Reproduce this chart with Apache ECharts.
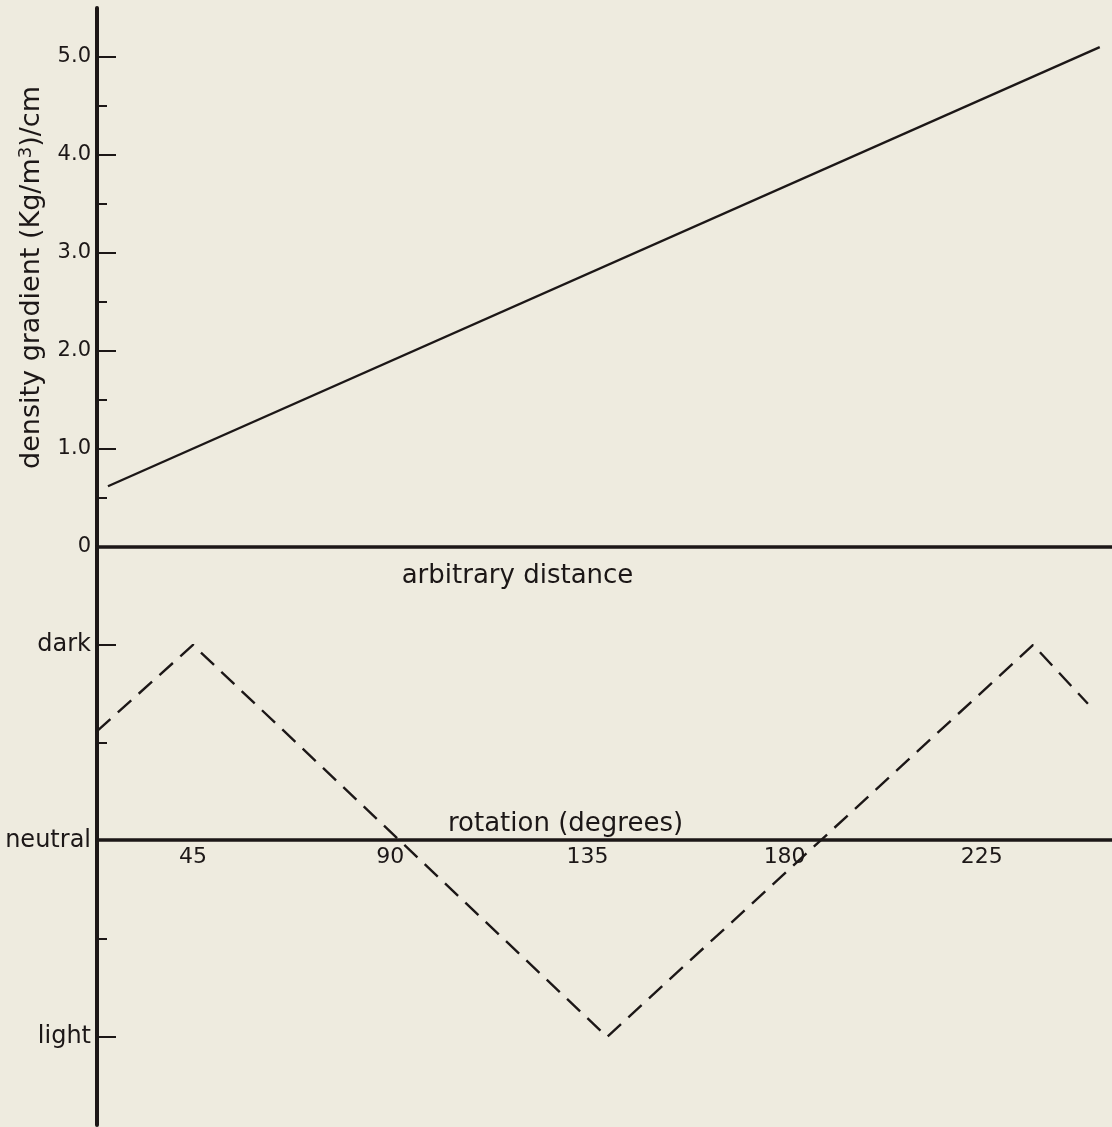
<!DOCTYPE html>
<html>
<head>
<meta charset="utf-8">
<script src="https://cdn.jsdelivr.net/npm/echarts@6/dist/echarts.min.js"></script>
<style>
  html, body { margin: 0; padding: 0; background: #eeebdf; }
  #chart { width: 1112px; height: 1127px; }
</style>
</head>
<body>
<div id="chart"></div>
<script>
// Upper panel: density gradient along an arbitrary distance
const distance = [25.6, 251.9];
const gradient = [0.62, 5.10];

// Lower panel: apparent shade versus rotation (1 = dark, 0 = neutral, -1 = light)
const rotation = [23.1, 45.0, 139.5, 236.7, 249.2];
const shade = [0.56, 1.0, -1.0, 1.0, 0.70];

// Tick labels
const gradientTicks = [0, 1, 2, 3, 4, 5];
const gradientMinor = [0.5, 1.5, 2.5, 3.5, 4.5];
const rotationTicks = [45, 90, 135, 180, 225];
const shadeTicks = [-1, 0, 1];
const shadeNames = { '1': 'dark', '0': 'neutral', '-1': 'light' };
const shadeMajor = [-1, 1];
const shadeMinor = [-0.5, 0.5];

const ink = '#1c1717';
const font = 'DejaVu Sans';
const xMin = 23.1, xMax = 254.7;
const shadeMin = -1.45, shadeMax = 1.5;

const hidden = { axisLine: { show: false }, axisTick: { show: false }, axisLabel: { show: false }, splitLine: { show: false } };

const chart = echarts.init(document.getElementById('chart'));
chart.setOption({
  backgroundColor: '#eeebdf',
  animation: false,
  textStyle: { fontFamily: font, color: ink },
  grid: [
    // upper panel
    { left: 97, right: 0, top: 8, height: 539, outerBoundsMode: 'none' },
    // lower panel, from the upper baseline down to the neutral line (holds the rotation axis)
    { left: 97, right: 0, top: 547, height: 293, outerBoundsMode: 'none' },
    // lower panel, full height (holds the shade curve and its scale)
    { left: 97, right: 0, top: 547, height: 578, outerBoundsMode: 'none' }
  ],
  xAxis: [
    {
      type: 'value', gridIndex: 0, min: xMin, max: xMax,
      axisLine: { show: true, onZero: false, lineStyle: { color: ink, width: 3.5 } },
      axisTick: { show: false }, axisLabel: { show: false }, splitLine: { show: false },
      name: 'arbitrary distance', nameLocation: 'middle', nameGap: 16,
      nameTextStyle: { fontFamily: font, fontSize: 26, color: ink, verticalAlign: 'top', padding: [0, 174, 0, 0] }
    },
    {
      type: 'value', gridIndex: 1, min: xMin, max: xMax, position: 'bottom',
      axisLine: { show: true, onZero: false, lineStyle: { color: ink, width: 3.5 } },
      axisTick: { show: false }, splitLine: { show: false },
      axisLabel: {
        customValues: rotationTicks, fontFamily: font, fontSize: 22, color: ink, margin: 6
      },
      name: 'rotation (degrees)', nameLocation: 'middle', nameGap: -3,
      nameTextStyle: { fontFamily: font, fontSize: 26, color: ink, verticalAlign: 'bottom', padding: [0, 78, 0, 0] }
    },
    Object.assign({ type: 'value', gridIndex: 2, min: xMin, max: xMax }, hidden)
  ],
  yAxis: [
    {
      type: 'value', gridIndex: 0, min: 0, max: 5.5,
      axisLine: { show: true, onZero: false, lineStyle: { color: ink, width: 4 } },
      axisTick: { show: true, inside: true, length: 19, customValues: gradientTicks.slice(1), lineStyle: { color: ink, width: 2 } },
      axisLabel: {
        customValues: gradientTicks, fontFamily: font, fontSize: 21, color: ink, margin: 6,
        formatter: v => (v === 0 ? '0' : v.toFixed(1))
      },
      splitLine: { show: false },
      name: 'density gradient (Kg/m{sup|3})/cm', nameLocation: 'middle', nameGap: 50,
      nameTextStyle: {
        fontFamily: font, fontSize: 27, color: ink,
        rich: { sup: { fontFamily: font, fontSize: 18, color: ink, verticalAlign: 'top', padding: [0, 0, 12, 0] } }
      }
    },
    {
      type: 'value', gridIndex: 0, min: 0, max: 5.5, position: 'left', offset: 0,
      axisLine: { show: false },
      axisTick: { show: true, inside: true, length: 10, customValues: gradientMinor, lineStyle: { color: ink, width: 2 } },
      axisLabel: { show: false }, splitLine: { show: false }
    },
    Object.assign({ type: 'value', gridIndex: 1, min: 0, max: shadeMax }, hidden),
    {
      type: 'value', gridIndex: 2, min: shadeMin, max: shadeMax,
      axisLine: { show: true, onZero: false, lineStyle: { color: ink, width: 4 } },
      axisTick: { show: true, inside: true, length: 19, customValues: shadeMajor, lineStyle: { color: ink, width: 2 } },
      axisLabel: {
        customValues: shadeTicks, fontFamily: font, fontSize: 24, color: ink, margin: 6,
        formatter: v => shadeNames[String(v)]
      },
      splitLine: { show: false }
    },
    {
      type: 'value', gridIndex: 2, min: shadeMin, max: shadeMax, position: 'left', offset: 0,
      axisLine: { show: false },
      axisTick: { show: true, inside: true, length: 10, customValues: shadeMinor, lineStyle: { color: ink, width: 2 } },
      axisLabel: { show: false }, splitLine: { show: false }
    }
  ],
  series: [
    {
      type: 'line', xAxisIndex: 0, yAxisIndex: 0, symbol: 'none',
      data: distance.map((d, i) => [d, gradient[i]]),
      lineStyle: { color: ink, width: 2.4 }
    },
    {
      type: 'line', xAxisIndex: 2, yAxisIndex: 3, symbol: 'none',
      data: rotation.map((r, i) => [r, shade[i]]),
      lineStyle: { color: ink, width: 2.4, type: [18, 10] }
    }
  ]
});
</script>
</body>
</html>
